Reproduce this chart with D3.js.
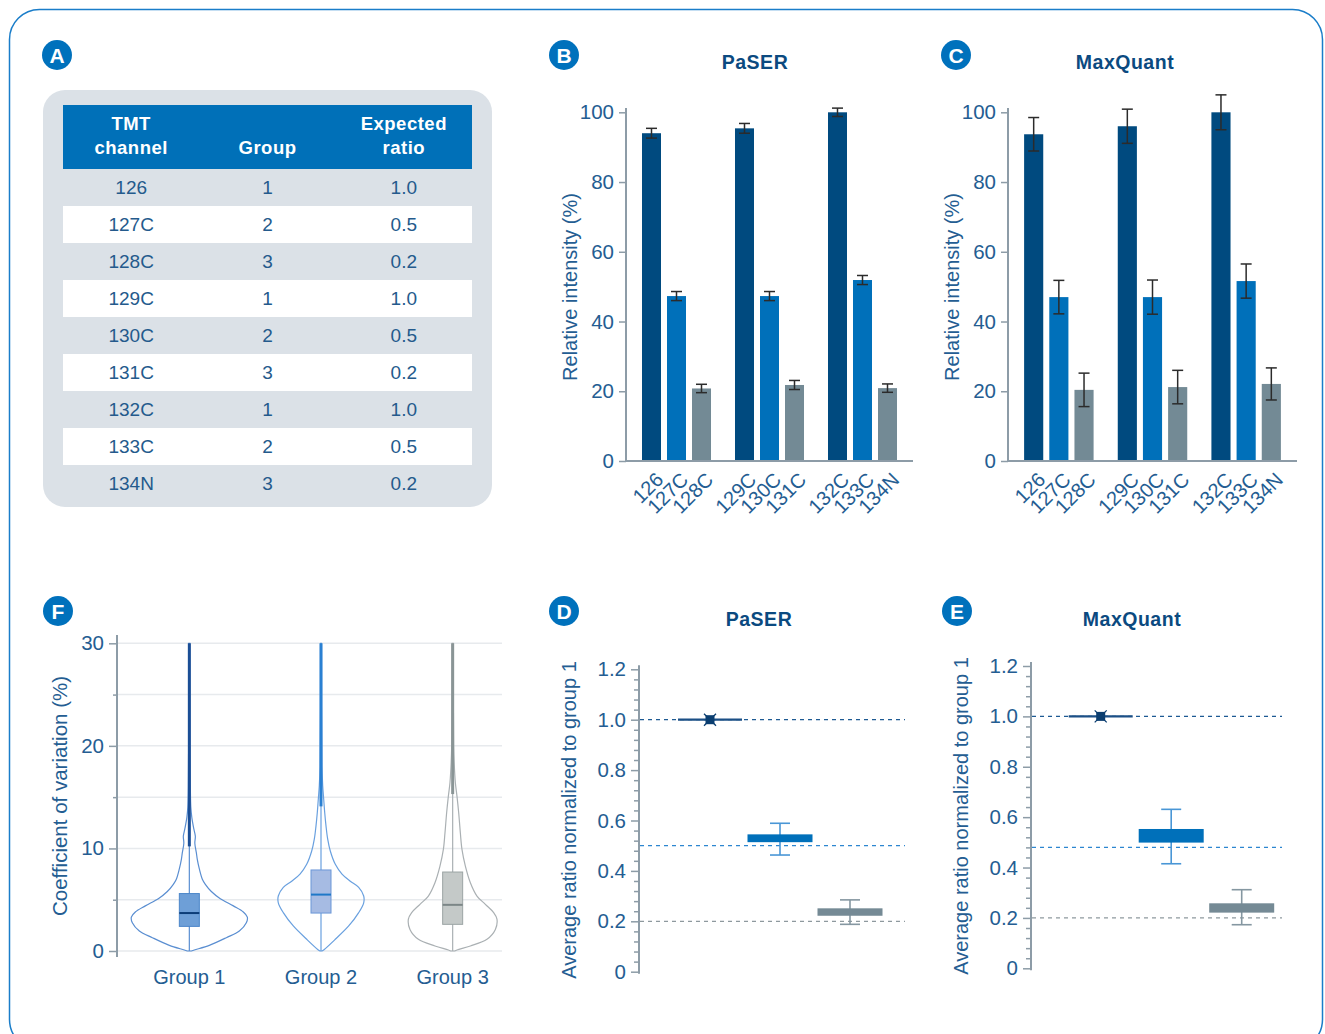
<!DOCTYPE html>
<html>
<head>
<meta charset="utf-8">
<script src="https://cdn.jsdelivr.net/npm/d3@7"></script>
<style>
  body { margin: 0; background: #fff; }
  svg { font-family: "Liberation Sans", Arial, sans-serif; }
</style>
</head>
<body>
<svg id="chart" width="1325" height="1034"></svg>
<script>
// ---- data ----
const tmtChannels = ["126", "127C", "128C", "129C", "130C", "131C", "132C", "133C", "134N"];
const tmtGroups = [1, 2, 3, 1, 2, 3, 1, 2, 3];
const expectedRatio = ["1.0", "0.5", "0.2", "1.0", "0.5", "0.2", "1.0", "0.5", "0.2"];
const tableHeaders = [["TMT", "channel"], ["", "Group"], ["Expected", "ratio"]];

const channelSets = ["set1", "set2", "set3"];
const paserIntensity = [94.0, 47.3, 20.8, 95.4, 47.3, 21.8, 100, 51.9, 20.9];
const paserError = [1.4, 1.3, 1.2, 1.4, 1.3, 1.3, 1.2, 1.3, 1.2];
const mqIntensity = [93.7, 47.0, 20.4, 96.0, 47.0, 21.2, 100, 51.6, 22.1];
const mqError = [4.8, 4.8, 4.8, 4.9, 4.9, 4.8, 5.0, 4.9, 4.6];
const intensityTicks = [0, 20, 40, 60, 80, 100];

const cvGroups = ["Group 1", "Group 2", "Group 3"];
// violin outline: [CV %, density]
const cvDensity = [
  [[0, 2], [0.1, 5], [0.55, 20], [1.3, 37], [1.95, 50], [2.75, 57], [3.3, 58], [3.8, 54], [4.4, 44], [5.1, 31],
   [5.8, 22], [6.5, 16], [7, 13], [8, 10], [8.9, 8], [9.6, 7], [10.5, 5.5], [11.2, 6], [11.9, 4.5], [13, 2.5],
   [14, 1.5], [16, 1], [20, 0.7], [30, 0.5]],
  [[0, 1], [0.1, 2.7], [1.14, 14.3], [2.44, 27.7], [3.74, 37.7], [4.7, 42.7], [5.36, 42.7], [6.2, 37.7], [6.8, 29.3],
   [7.5, 21], [8.45, 14.3], [9.75, 9.3], [10.9, 6.7], [12.2, 5], [13.5, 3.7], [14.8, 2.7], [16.1, 1.7], [18, 1], [30, 0.5]],
  [[0, 2], [0.1, 4.3], [0.49, 17.7], [1.14, 34.3], [2.1, 42.7], [3.1, 44.3], [3.74, 41], [4.55, 32.7], [5.36, 24.3],
   [6.66, 17.7], [8.28, 12.7], [9.9, 9.3], [11.5, 7.7], [13.5, 6], [15.1, 4.3], [16.4, 2.7], [18.4, 1.5], [20, 1], [30, 0.5]]
];
const cvQ1 = [2.4, 3.7, 2.6];
const cvMedian = [3.7, 5.5, 4.5];
const cvQ3 = [5.6, 7.9, 7.7];
const cvOutlierRange = [[10.2, 30], [14.1, 30], [15.3, 30]];
const cvTicks = [0, 10, 20, 30];

const ratioGroups = ["Group 1", "Group 2", "Group 3"];
const paserRatio = { q1: [1.0, 0.514, 0.222], q3: [1.0, 0.545, 0.2515], lo: [1.0, 0.463, 0.188], hi: [1.0, 0.589, 0.285] };
const mqRatio = { q1: [1.0, 0.499, 0.221], q3: [1.0, 0.553, 0.258], lo: [1.0, 0.415, 0.173], hi: [1.0, 0.631, 0.312] };
const paserExpected = [1.0, 0.5, 0.2];
const mqExpected = [1.0, 0.48, 0.2];
const ratioTicks = [0, 0.2, 0.4, 0.6, 0.8, 1.0, 1.2];

// ---- styles ----
const blue = "#0071bc";
const navy = "#0b4a80";
const tickColor = "#245d92";
const axisColor = "#8d9ca7";
const barColors = { 1: "#004a7f", 2: "#0070ba", 3: "#738a95" };

const svg = d3.select("#chart");

svg.append("rect")
    .attr("x", 9.5).attr("y", 9.5)
    .attr("width", 1313).attr("height", 1040)
    .attr("rx", 30)
    .attr("fill", "none")
    .attr("stroke", "#1a7dc9")
    .attr("stroke-width", 1.5);

function badge(x, y, letter) {
  svg.append("circle").attr("cx", x).attr("cy", y).attr("r", 15).attr("fill", blue);
  svg.append("text")
      .attr("x", x).attr("y", y).attr("dy", "0.36em")
      .attr("text-anchor", "middle")
      .attr("fill", "#fff")
      .attr("font-weight", "bold")
      .attr("font-size", 21)
      .text(letter);
}

function styleTicks(g) {
  g.selectAll(".tick text").attr("fill", tickColor).attr("font-size", 20.5);
  g.selectAll(".tick line").attr("stroke", axisColor).attr("stroke-width", 1.5);
  g.select(".domain").remove();
}

// ---- panel A: table ----
badge(57, 55, "A");
svg.append("rect")
    .attr("x", 43).attr("y", 90)
    .attr("width", 449).attr("height", 417)
    .attr("rx", 22)
    .attr("fill", "#dbe1e7");

const colX = d3.scaleBand().domain([0, 1, 2]).range([63, 472]);
const rowY = d3.scaleBand().domain(d3.range(tmtChannels.length)).range([169, 169 + 37 * tmtChannels.length]);

svg.append("rect")
    .attr("x", 63).attr("y", 105)
    .attr("width", 409).attr("height", 64)
    .attr("fill", "#0070b8");

tableHeaders.forEach((lines, c) => {
  lines.forEach((s, k) => {
    svg.append("text")
        .attr("x", colX(c) + colX.bandwidth() / 2)
        .attr("y", 130 + k * 24)
        .attr("text-anchor", "middle")
        .attr("fill", "#fff")
        .attr("font-weight", "bold")
        .attr("font-size", 18.5)
        .attr("letter-spacing", 0.5)
        .text(s);
  });
});

svg.selectAll(".row-bg")
  .data(d3.range(tmtChannels.length).filter(i => i % 2 === 1))
  .enter()
  .append("rect")
    .attr("x", 63)
    .attr("y", d => rowY(d))
    .attr("width", 409)
    .attr("height", rowY.bandwidth())
    .attr("fill", "#fff");

const rows = tmtChannels.map((ch, i) => [ch, String(tmtGroups[i]), expectedRatio[i]]);
rows.forEach((r, i) => {
  r.forEach((s, c) => {
    svg.append("text")
        .attr("x", colX(c) + colX.bandwidth() / 2)
        .attr("y", rowY(i) + rowY.bandwidth() / 2)
        .attr("dy", "0.36em")
        .attr("text-anchor", "middle")
        .attr("fill", "#245a8c")
        .attr("font-size", 19)
        .text(s);
  });
});

// ---- panels B, C: bars ----
function barPanel(cfg) {
  badge(cfg.badgeX, 55, cfg.letter);
  svg.append("text")
      .attr("x", cfg.titleX).attr("y", 69)
      .attr("text-anchor", "middle")
      .attr("fill", navy)
      .attr("font-weight", "bold")
      .attr("font-size", 19.5)
      .attr("letter-spacing", 0.5)
      .text(cfg.title);

  const y = d3.scaleLinear().domain([0, 100]).range([461, 112.3]);
  const xSet = d3.scaleBand().domain(channelSets).range([cfg.x0, cfg.x1])
      .paddingInner(0.258).paddingOuter(0.172);
  const xIn = d3.scaleBand().domain([0, 1, 2]).range([0, xSet.bandwidth()]).paddingInner(0.24);

  const bars = tmtChannels.map((ch, i) => ({
    ch, grp: tmtGroups[i], v: cfg.values[i], e: cfg.errors[i],
    cx: xSet(channelSets[Math.floor(i / 3)]) + xIn(i % 3)
  }));

  const yAxis = svg.append("g")
      .attr("transform", `translate(${cfg.x0},0)`)
      .call(d3.axisLeft(y).tickValues(intensityTicks).tickSize(7).tickPadding(5));
  styleTicks(yAxis);

  svg.selectAll(null)
    .data(bars)
    .enter()
    .append("rect")
      .attr("x", d => d.cx)
      .attr("y", d => y(d.v))
      .attr("width", xIn.bandwidth())
      .attr("height", d => y(0) - y(d.v))
      .attr("fill", d => barColors[d.grp]);

  const err = svg.selectAll(null).data(bars).enter().append("g")
      .attr("stroke", "#2b2b2b").attr("stroke-width", 1.5);
  err.append("line")
      .attr("x1", d => d.cx + xIn.bandwidth() / 2).attr("x2", d => d.cx + xIn.bandwidth() / 2)
      .attr("y1", d => y(d.v - d.e)).attr("y2", d => y(d.v + d.e));
  [-1, 1].forEach(s => {
    err.append("line")
        .attr("x1", d => d.cx + xIn.bandwidth() / 2 - 5.5).attr("x2", d => d.cx + xIn.bandwidth() / 2 + 5.5)
        .attr("y1", d => y(d.v + s * d.e)).attr("y2", d => y(d.v + s * d.e));
  });

  // axis lines
  svg.append("line").attr("x1", cfg.x0).attr("x2", cfg.x0).attr("y1", y(101.2)).attr("y2", y(0) + 1)
      .attr("stroke", axisColor).attr("stroke-width", 2);
  svg.append("line").attr("x1", cfg.x0).attr("x2", cfg.x1).attr("y1", y(0)).attr("y2", y(0))
      .attr("stroke", axisColor).attr("stroke-width", 2);

  svg.selectAll(null)
    .data(bars)
    .enter()
    .append("text")
      .attr("transform", d => `translate(${d.cx + xIn.bandwidth() / 2 + 13},481) rotate(-45)`)
      .attr("text-anchor", "end")
      .attr("fill", tickColor)
      .attr("font-size", 20)
      .text(d => d.ch);

  svg.append("text")
      .attr("transform", `translate(${cfg.labelX},287) rotate(-90)`)
      .attr("text-anchor", "middle")
      .attr("dy", "0.35em")
      .attr("fill", tickColor)
      .attr("font-size", 20)
      .text("Relative intensity (%)");
}

barPanel({ letter: "B", badgeX: 564, title: "PaSER", titleX: 755, x0: 626, x1: 913, labelX: 570,
           values: paserIntensity, errors: paserError });
barPanel({ letter: "C", badgeX: 956, title: "MaxQuant", titleX: 1125, x0: 1008, x1: 1297, labelX: 952,
           values: mqIntensity, errors: mqError });

// ---- panel F: violins ----
badge(58, 611, "F");
{
  const y = d3.scaleLinear().domain([0, 30]).range([951, 643.3]);
  const x = d3.scalePoint().domain(cvGroups).range([123.5, 518.5]).padding(0.5);
  const w = d3.scaleLinear().domain([0, 60]).range([0, 60]);
  const outline = ["#5a8ed1", "#69a0df", "#aab0b3"];
  const boxFill = ["#6e9fd7", "#a6bbe3", "#c4c9c8"];
  const boxStroke = ["#4c86c9", "#6b97d8", "#9ba4a4"];
  const medColor = ["#0c3d78", "#1f78c8", "#7c8687"];
  const dotColor = ["#1b4e95", "#2a80d2", "#8a9596"];

  svg.selectAll(null)
    .data(d3.range(0, 31, 5))
    .enter()
    .append("line")
      .attr("x1", 117).attr("x2", 502)
      .attr("y1", d => y(d)).attr("y2", d => y(d))
      .attr("stroke", "#e7eaed").attr("stroke-width", 1.5);

  const yAxis = svg.append("g")
      .attr("transform", "translate(117,0)")
      .call(d3.axisLeft(y).tickValues(cvTicks).tickSize(8).tickPadding(5));
  styleTicks(yAxis);
  svg.append("g")
      .attr("transform", "translate(117,0)")
      .call(d3.axisLeft(y).tickValues([5, 15, 25]).tickSize(4).tickFormat(""))
      .call(styleTicks);
  svg.append("line").attr("x1", 117).attr("x2", 117).attr("y1", 635).attr("y2", 957)
      .attr("stroke", axisColor).attr("stroke-width", 2);

  const area = d3.area()
      .curve(d3.curveCatmullRom)
      .y(d => y(d[0]));

  cvGroups.forEach((g, i) => {
    const cx = x(g);
    svg.append("path")
        .datum(cvDensity[i])
        .attr("d", area.x0(d => cx - w(d[1])).x1(d => cx + w(d[1])))
        .attr("fill", "none")
        .attr("stroke", outline[i])
        .attr("stroke-width", 1.2);
    svg.append("line")
        .attr("x1", cx).attr("x2", cx).attr("y1", y(0)).attr("y2", y(30))
        .attr("stroke", outline[i]).attr("stroke-width", 1.2);
    svg.append("line")
        .attr("x1", cx).attr("x2", cx)
        .attr("y1", y(cvOutlierRange[i][0])).attr("y2", y(cvOutlierRange[i][1]))
        .attr("stroke", dotColor[i]).attr("stroke-width", 3);
    svg.append("rect")
        .attr("x", cx - 10).attr("width", 20)
        .attr("y", y(cvQ3[i])).attr("height", y(cvQ1[i]) - y(cvQ3[i]))
        .attr("fill", boxFill[i]).attr("stroke", boxStroke[i]).attr("stroke-width", 1);
    svg.append("line")
        .attr("x1", cx - 10).attr("x2", cx + 10)
        .attr("y1", y(cvMedian[i])).attr("y2", y(cvMedian[i]))
        .attr("stroke", medColor[i]).attr("stroke-width", 2);
    svg.append("text")
        .attr("x", cx).attr("y", 984)
        .attr("text-anchor", "middle")
        .attr("fill", tickColor)
        .attr("font-size", 20)
        .text(g);
  });

  svg.append("text")
      .attr("transform", "translate(60,796) rotate(-90)")
      .attr("text-anchor", "middle")
      .attr("dy", "0.35em")
      .attr("fill", tickColor)
      .attr("font-size", 20.5)
      .text("Coefficient of variation (%)");
}

// ---- panels D, E: ratio boxes ----
function ratioPanel(cfg) {
  badge(cfg.badgeX, 611, cfg.letter);
  svg.append("text")
      .attr("x", cfg.titleX).attr("y", 626)
      .attr("text-anchor", "middle")
      .attr("fill", navy)
      .attr("font-weight", "bold")
      .attr("font-size", 19.5)
      .attr("letter-spacing", 0.5)
      .text(cfg.title);

  const y = d3.scaleLinear().domain([0, 1.2]).range(cfg.yRange);
  const x = d3.scalePoint().domain(ratioGroups).range(cfg.xRange);
  const fmt = d => d === 0 ? "0" : d3.format(".1f")(d);

  const minor = svg.append("g")
      .attr("transform", `translate(${cfg.axisX},0)`)
      .call(d3.axisLeft(y).tickValues(d3.range(0, 61).map(k => k * 0.02).filter((v, k) => k % 2 === 0 && k % 10 !== 0))
        .tickSize(5).tickFormat(""));
  styleTicks(minor);
  const major = svg.append("g")
      .attr("transform", `translate(${cfg.axisX},0)`)
      .call(d3.axisLeft(y).tickValues(ratioTicks).tickSize(8).tickPadding(5).tickFormat(fmt));
  styleTicks(major);
  svg.append("line")
      .attr("x1", cfg.axisX).attr("x2", cfg.axisX)
      .attr("y1", y(1.216)).attr("y2", y(0) + 2)
      .attr("stroke", axisColor).attr("stroke-width", 2);

  const refColors = ["#1d5a93", "#2d86d0", "#8e999e"];
  cfg.expected.forEach((v, i) => {
    svg.append("line")
        .attr("x1", cfg.axisX + 1).attr("x2", cfg.refEnd)
        .attr("y1", y(v)).attr("y2", y(v))
        .attr("stroke", refColors[i])
        .attr("stroke-width", 1.3)
        .attr("stroke-dasharray", "4,4");
  });

  const boxFill = ["#1b4f86", "#0070ba", "#758a95"];
  const whiskColor = ["#1b4f86", "#4996d6", "#8597a1"];
  ratioGroups.forEach((g, i) => {
    const cx = x(g);
    const r = cfg.data;
    if (i === 0) {
      svg.append("line")
          .attr("x1", cx - 32).attr("x2", cx + 32)
          .attr("y1", y(r.q1[i])).attr("y2", y(r.q1[i]))
          .attr("stroke", boxFill[i]).attr("stroke-width", 2.2);
      svg.append("rect")
          .attr("x", cx - 4.5).attr("y", y(r.q1[i]) - 4.5)
          .attr("width", 9).attr("height", 9)
          .attr("fill", "#0b3e70");
      svg.append("path")
          .attr("d", `M${cx - 6},${y(1) - 6}L${cx + 6},${y(1) + 6}M${cx + 6},${y(1) - 6}L${cx - 6},${y(1) + 6}`)
          .attr("stroke", "#0b3e70").attr("stroke-width", 1.3);
      return;
    }
    svg.append("line")
        .attr("x1", cx).attr("x2", cx).attr("y1", y(r.lo[i])).attr("y2", y(r.hi[i]))
        .attr("stroke", whiskColor[i]).attr("stroke-width", 1.6);
    [r.lo[i], r.hi[i]].forEach(v => {
      svg.append("line")
          .attr("x1", cx - 10).attr("x2", cx + 10).attr("y1", y(v)).attr("y2", y(v))
          .attr("stroke", whiskColor[i]).attr("stroke-width", 1.6);
    });
    svg.append("rect")
        .attr("x", cx - 32.5).attr("width", 65)
        .attr("y", y(r.q3[i])).attr("height", y(r.q1[i]) - y(r.q3[i]))
        .attr("fill", boxFill[i]);
  });

  svg.append("text")
      .attr("transform", `translate(${cfg.labelX},${cfg.labelY}) rotate(-90)`)
      .attr("text-anchor", "middle")
      .attr("dy", "0.35em")
      .attr("fill", tickColor)
      .attr("font-size", 20)
      .text("Average ratio normalized to group 1");
}

ratioPanel({ letter: "D", badgeX: 564, title: "PaSER", titleX: 759, axisX: 639, refEnd: 905,
             yRange: [971.7, 669.3], xRange: [710, 850], labelX: 569, labelY: 820,
             data: paserRatio, expected: paserExpected });
ratioPanel({ letter: "E", badgeX: 957, title: "MaxQuant", titleX: 1132, axisX: 1031, refEnd: 1282,
             yRange: [968.3, 666], xRange: [1100.7, 1241.7], labelX: 961, labelY: 816,
             data: mqRatio, expected: mqExpected });
</script>
</body>
</html>
